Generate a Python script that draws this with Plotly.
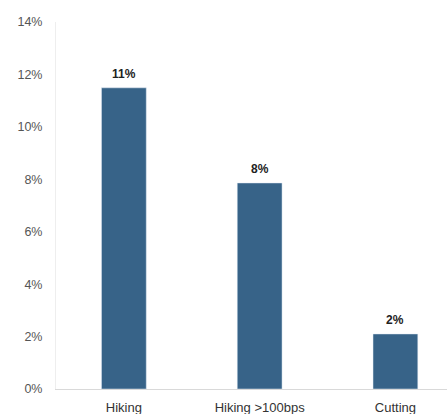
import plotly.graph_objects as go

categories = ["Hiking", "Hiking >100bps", "Cutting"]
values = [0.1149, 0.0786, 0.021]
labels = ["11%", "8%", "2%"]
y_ticks = [0, 0.02, 0.04, 0.06, 0.08, 0.10, 0.12, 0.14]
y_tick_labels = ["0%", "2%", "4%", "6%", "8%", "10%", "12%", "14%"]

fig = go.Figure(
    go.Bar(
        x=categories,
        y=values,
        marker=dict(color="#376388"),
        width=0.33,
    )
)

for c, v, t in zip(categories, values, labels):
    fig.add_annotation(
        x=c, y=v, text=f"<b>{t}</b>", showarrow=False,
        yanchor="bottom", yshift=5,
        font=dict(family="Liberation Sans, Arial", size=12, color="#222222"),
    )

fig.update_layout(
    width=447,
    height=414,
    margin=dict(l=56, r=0, t=22, b=25),
    plot_bgcolor="white",
    paper_bgcolor="white",
    showlegend=False,
    font=dict(family="Liberation Sans, Arial", size=12, color="#555555"),
    xaxis=dict(
        range=[-0.5, 2.38],
        showgrid=False,
        showline=True,
        linecolor="#d9d9d9",
        linewidth=1,
        ticks="",
        ticklabelstandoff=6,
        tickfont=dict(size=13, color="#333333"),
        fixedrange=True,
    ),
    yaxis=dict(
        range=[0, 0.14],
        tickvals=y_ticks,
        ticktext=y_tick_labels,
        showgrid=False,
        showline=True,
        linecolor="#eeeeee",
        linewidth=1,
        ticks="",
        ticklabelstandoff=10,
        zeroline=False,
        tickfont=dict(size=12.5, color="#555555"),
    ),
)

fig.write_html("out.html")
